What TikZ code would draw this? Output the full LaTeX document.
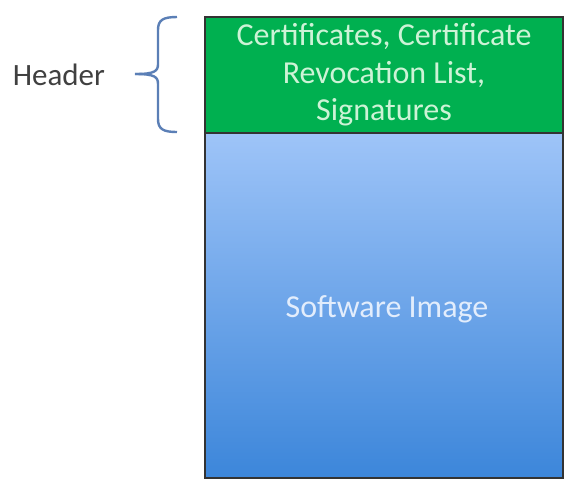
\documentclass[tikz,border=0pt]{standalone}
\usepackage{fontspec}
\setmainfont{Carlito}
\definecolor{hdrgreen}{HTML}{00B050}
\definecolor{hdrtext}{HTML}{CDF3D6}
\definecolor{imgtop}{HTML}{9EC4F8}
\definecolor{imgbot}{HTML}{3C86DA}
\definecolor{imgtext}{HTML}{E2EDFC}
\definecolor{bracecol}{HTML}{5B7FB6}
\definecolor{labelcol}{HTML}{404040}
\tikzset{
  layer/.style={rectangle, draw=black!80, line width=0.7pt, inner sep=0pt, outer sep=0pt,
    minimum width=179pt, anchor=north west, align=center, font=\fontsize{16}{18.8}\selectfont},
}
\begin{document}
\begin{tikzpicture}[x=0.5pt, y=-0.5pt]
	\useasboundingbox (0, 0) rectangle (565, 479);
	% image part below the header
	\node[layer, minimum height=172.5pt, top color=imgtop, bottom color=imgbot] (img) at (205, 133) {};
	\node[text=imgtext, font=\fontsize{16}{18}\selectfont] (imglbl) at (387, 309) {Software Image};
	% header part
	\node[layer, minimum height=58pt, fill=hdrgreen, text=hdrtext] (hdr) at (205, 17) {Certificates, Certificate\\Revocation List,\\Signatures};
	% brace and its label
	\coordinate (tip) at (135, 74);
	\draw[bracecol, line width=1.2pt] (177, 17) .. controls (163, 17) and (158, 20) .. (158, 30) -- (158, 64) .. controls (158, 71) and (155, 74) .. (tip);
	\draw[bracecol, line width=1.2pt] (177, 132) .. controls (163, 132) and (158, 129) .. (158, 119) -- (158, 84) .. controls (158, 77) and (155, 74) .. (tip);
	\node[text=labelcol, font=\fontsize{15.5}{18}\selectfont, anchor=east] (lbl) at (112, 75) {Header};
\end{tikzpicture}
\end{document}
